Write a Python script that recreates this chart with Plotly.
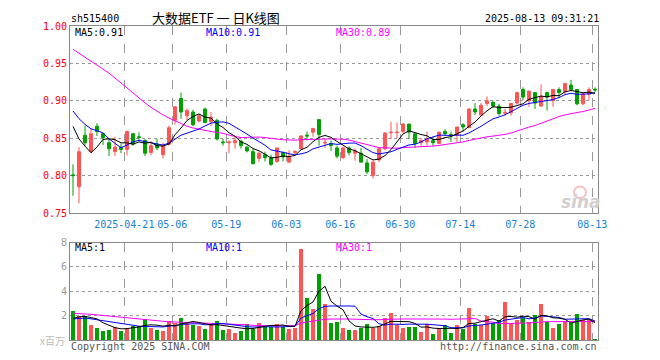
import pandas as pd
import plotly.graph_objects as go

# ---------------- data ----------------
holidays = ["2025-05-01", "2025-05-02", "2025-05-05", "2025-06-02"]
dates = [d.strftime("%Y-%m-%d") for d in pd.bdate_range("2025-04-08", "2025-08-13")
         if d.strftime("%Y-%m-%d") not in holidays]

open_ = [0.801, 0.785, 0.854, 0.832, 0.866, 0.856, 0.844, 0.832, 0.838, 0.835,
         0.856, 0.852, 0.847, 0.831, 0.842, 0.828, 0.842, 0.874, 0.903, 0.880,
         0.885, 0.873, 0.889, 0.872, 0.874, 0.845, 0.844, 0.844, 0.846, 0.838,
         0.832, 0.823, 0.828, 0.824, 0.819, 0.831, 0.818, 0.831, 0.836, 0.854,
         0.858, 0.875, 0.8435, 0.843, 0.837, 0.824, 0.837, 0.830, 0.830, 0.817,
         0.800, 0.821, 0.836, 0.8575, 0.8575, 0.859, 0.869, 0.856, 0.844, 0.845,
         0.847, 0.843, 0.859, 0.855, 0.854, 0.868, 0.864, 0.889, 0.881, 0.8965,
         0.898, 0.893, 0.8835, 0.884, 0.897, 0.915, 0.900, 0.911, 0.893, 0.911,
         0.900, 0.915, 0.912, 0.921, 0.915, 0.896, 0.909, 0.9155]
high = [0.815, 0.838, 0.867, 0.863, 0.870, 0.857, 0.849, 0.852, 0.843, 0.860,
        0.857, 0.858, 0.849, 0.846, 0.849, 0.844, 0.867, 0.893, 0.911, 0.890,
        0.888, 0.882, 0.891, 0.885, 0.876, 0.849, 0.847, 0.852, 0.848, 0.840,
        0.836, 0.832, 0.832, 0.828, 0.837, 0.832, 0.834, 0.834, 0.854, 0.859,
        0.864, 0.875, 0.850, 0.847, 0.840, 0.839, 0.839, 0.836, 0.837, 0.822,
        0.820, 0.837, 0.858, 0.872, 0.871, 0.870, 0.869, 0.856, 0.850, 0.859,
        0.852, 0.859, 0.862, 0.859, 0.865, 0.870, 0.890, 0.897, 0.897, 0.906,
        0.900, 0.896, 0.889, 0.8965, 0.912, 0.918, 0.913, 0.911, 0.922, 0.912,
        0.916, 0.918, 0.924, 0.928, 0.915, 0.911, 0.918, 0.918]
low = [0.773, 0.763, 0.840, 0.830, 0.853, 0.841, 0.826, 0.826, 0.830, 0.827,
       0.840, 0.846, 0.826, 0.827, 0.834, 0.823, 0.840, 0.868, 0.876, 0.874,
       0.866, 0.871, 0.870, 0.866, 0.847, 0.840, 0.830, 0.836, 0.836, 0.831,
       0.815, 0.818, 0.819, 0.813, 0.817, 0.819, 0.818, 0.828, 0.834, 0.847,
       0.852, 0.840, 0.837, 0.833, 0.823, 0.822, 0.827, 0.820, 0.818, 0.802,
       0.796, 0.818, 0.834, 0.849, 0.850, 0.857, 0.849, 0.837, 0.840, 0.840,
       0.839, 0.842, 0.853, 0.845, 0.844, 0.859, 0.864, 0.881, 0.880, 0.893,
       0.890, 0.880, 0.880, 0.880, 0.895, 0.901, 0.892, 0.889, 0.892, 0.887,
       0.892, 0.904, 0.909, 0.913, 0.894, 0.894, 0.901, 0.912]
close = [0.800, 0.832, 0.844, 0.856, 0.859, 0.851, 0.836, 0.838, 0.835, 0.859,
         0.842, 0.851, 0.830, 0.840, 0.837, 0.840, 0.864, 0.892, 0.885, 0.887,
         0.868, 0.880, 0.871, 0.878, 0.849, 0.844, 0.845, 0.847, 0.840, 0.833,
         0.816, 0.830, 0.824, 0.815, 0.837, 0.825, 0.826, 0.832, 0.853, 0.853,
         0.863, 0.855, 0.8445, 0.840, 0.826, 0.837, 0.831, 0.833, 0.818, 0.805,
         0.818, 0.836, 0.857, 0.858, 0.858, 0.869, 0.858, 0.843, 0.847, 0.849,
         0.844, 0.858, 0.856, 0.854, 0.865, 0.865, 0.889, 0.885, 0.894, 0.900,
         0.893, 0.883, 0.8845, 0.8965, 0.911, 0.905, 0.913, 0.897, 0.906, 0.905,
         0.915, 0.911, 0.923, 0.915, 0.896, 0.909, 0.915, 0.9145]
volume = [2.40, 2.00, 2.00, 1.28, 0.99, 0.80, 0.88, 1.12, 0.80, 1.04,
          1.20, 1.20, 1.76, 1.04, 0.88, 0.80, 1.60, 1.44, 1.84, 1.44,
          1.28, 1.20, 0.96, 1.28, 1.60, 0.88, 0.96, 0.64, 0.80, 1.36,
          0.96, 1.44, 1.12, 1.12, 1.36, 1.12, 0.96, 1.04, 7.52, 3.52,
          2.56, 5.44, 2.96, 1.44, 1.52, 1.04, 0.88, 0.88, 1.04, 1.36,
          1.04, 1.20, 1.84, 2.24, 1.28, 1.04, 1.12, 1.12, 0.72, 1.36,
          0.56, 0.96, 1.28, 0.64, 1.28, 0.96, 2.64, 1.36, 1.28, 2.00,
          1.44, 1.68, 3.12, 1.44, 1.68, 1.84, 1.52, 2.08, 2.96, 1.52,
          1.04, 1.36, 1.60, 1.44, 2.16, 1.68, 1.68, 0.16]
# sessions before the first shown bar (feed the moving averages only)
prior_close = [1.000, 1.005, 1.007, 1.012, 1.008, 1.006, 1.030, 1.040, 1.050, 1.050,
               1.040, 1.035, 1.020, 1.000, 0.980, 0.990, 1.005, 1.010, 0.975, 0.940,
               0.935, 0.920, 0.915, 0.885, 0.880, 0.916, 0.892, 0.900, 0.821]
prior_volume = [2.3, 2.6, 2.9, 2.4, 2.2, 2.7, 2.5, 2.6, 2.4, 2.8,
                3.1, 2.5, 2.6, 2.6, 2.2, 2.1, 1.9, 2.3, 1.8, 2.0,
                1.7, 1.6, 1.9, 1.7, 1.6, 1.3, 1.8, 1.9, 1.4]

tick_dates = ["2025-04-21", "2025-05-06", "2025-05-19", "2025-06-03", "2025-06-16",
              "2025-06-30", "2025-07-14", "2025-07-28", "2025-08-13"]
tick_text = ["2025-04-21", "05-06", "05-19", "06-03", "06-16", "06-30", "07-14", "07-28", "08-13"]
price_ticks = [0.75, 0.80, 0.85, 0.90, 0.95, 1.00]
vol_ticks = [2, 4, 6, 8]
ma_periods = [5, 10, 30]

# ---------------- derived ----------------
n = len(dates)
x = list(range(n))
npre = len(prior_close)
cs = pd.Series(prior_close + close)
vs = pd.Series(prior_volume + volume)
ma_c = {p: cs.rolling(p).mean().iloc[npre:].tolist() for p in ma_periods}
ma_v = {p: vs.rolling(p).mean().iloc[npre:].tolist() for p in ma_periods}

RED = "#ff5555"
GREEN = "#00a000"
MA_COL = {5: "#000000", 10: "#0000ff", 30: "#ff00ff"}
MONO = "DejaVu Sans Mono"
GRID = "#999999"
FRAME = "#888888"
vol_colors = [RED if c >= o else GREEN for o, c in zip(open_, close)]
tickpos = [dates.index(d) - 0.45 for d in tick_dates]

fig = go.Figure()
fig.add_trace(go.Candlestick(
    x=x, open=open_, high=high, low=low, close=close,
    increasing=dict(line=dict(color=RED, width=1), fillcolor=RED),
    decreasing=dict(line=dict(color=GREEN, width=1), fillcolor=GREEN),
    whiskerwidth=0, xaxis="x", yaxis="y", showlegend=False))
for p in [30, 10, 5]:
    fig.add_trace(go.Scatter(x=x, y=ma_c[p], mode="lines", line=dict(color=MA_COL[p], width=1),
                             xaxis="x", yaxis="y", showlegend=False, hoverinfo="skip"))
fig.add_trace(go.Bar(x=x, y=volume, marker=dict(color=vol_colors, line=dict(width=0)),
                     width=0.83, xaxis="x2", yaxis="y2", showlegend=False))
for p in [30, 10, 5]:
    fig.add_trace(go.Scatter(x=x, y=ma_v[p], mode="lines", line=dict(color=MA_COL[p], width=1),
                             xaxis="x2", yaxis="y2", showlegend=False, hoverinfo="skip"))

# page body has an 8px margin: figure origin sits at (8, 8) on screen
OFF = 8
L, R, T, B = 70, 598, 21, 340          # plot area in screen pixels
W, H = 660 - OFF, 360 - OFF


def px(v):
    return (v - L) / (R - L)


def py(v):
    return (B - v) / (B - T)


common_x = dict(range=[-0.5, n - 0.5], tickvals=tickpos, showgrid=True, gridcolor=GRID,
                gridwidth=1, griddash="dash", showline=True, mirror=True, linecolor=FRAME,
                linewidth=1, ticks="", zeroline=False, fixedrange=True)
common_y = dict(showgrid=True, gridcolor=GRID, gridwidth=1, griddash="dot", showline=True,
                mirror=True, linecolor=FRAME, linewidth=1, ticks="", zeroline=False, fixedrange=True)
fig.update_layout(
    width=W, height=H, paper_bgcolor="white", plot_bgcolor="rgba(0,0,0,0)",
    margin=dict(l=L - OFF, r=W - (R - OFF), t=T - OFF, b=H - (B - OFF), pad=0),
    boxgap=0.3, bargap=0,
    xaxis=dict(**common_x, anchor="y", ticktext=tick_text, ticklabelstandoff=2,
               tickfont=dict(family=MONO, size=10, color="#1880d0"),
               rangeslider=dict(visible=False)),
    xaxis2=dict(**common_x, anchor="y2", showticklabels=False, matches="x"),
    yaxis=dict(**common_y, domain=[py(211), 1], range=[0.75, 1.0], tickvals=price_ticks,
               ticktext=[f"{t:.2f}" for t in price_ticks],
               tickfont=dict(family=MONO, size=10, color="#ff0000")),
    yaxis2=dict(**common_y, domain=[0, py(241)], range=[0, 8], tickvals=vol_ticks,
                ticktext=[str(t) for t in vol_ticks],
                tickfont=dict(family=MONO, size=10, color="#999999")),
    hovermode=False,
)

ann = []


def text(xp, yp, s, color="#000000", size=10, family=MONO, anchor="left", **kw):
    ann.append(dict(x=px(xp), y=py(yp), xref="paper", yref="paper", text=s, showarrow=False,
                    xanchor=anchor, yanchor="middle", borderpad=0,
                    font=dict(family=family, size=size, color=color), **kw))


text(70, 13, "sh515400")
text(216, 12, "大数据ETF 一 日K线图", size=13, family="Noto Sans CJK SC", anchor="center")
text(600, 13, "2025-08-13 09:31:21", anchor="right")
for p, xp in zip(ma_periods, [74, 205, 335]):
    text(xp, 28, f"MA{p}:{ma_c[p][-1]:.2f}", color=MA_COL[p])
    text(xp, 246, f"MA{p}:{int(ma_v[p][-1])}", color=MA_COL[p])
text(66, 340, "x百万", color="#bbbbbb", size=10, family="Noto Sans CJK SC", anchor="right")
text(70, 347, "Copyright 2025 SINA.COM", color="#555555")
text(598, 347, "http://finance.sina.com.cn", color="#555555", anchor="right")
ann.append(dict(x=px(581), y=py(200), xref="paper", yref="paper", text="sina", showarrow=False,
                xanchor="center", yanchor="middle",
                font=dict(family="DejaVu Sans", size=17, color="#d0d0d0", weight="bold", style="italic")))
fig.update_layout(annotations=ann)
fig.add_shape(type="circle", xref="paper", yref="paper", x0=px(574), x1=px(586), y0=py(196), y1=py(184),
              line=dict(color="#f3c4c4", width=2), fillcolor="rgba(0,0,0,0)")

fig.write_html("out.html")
